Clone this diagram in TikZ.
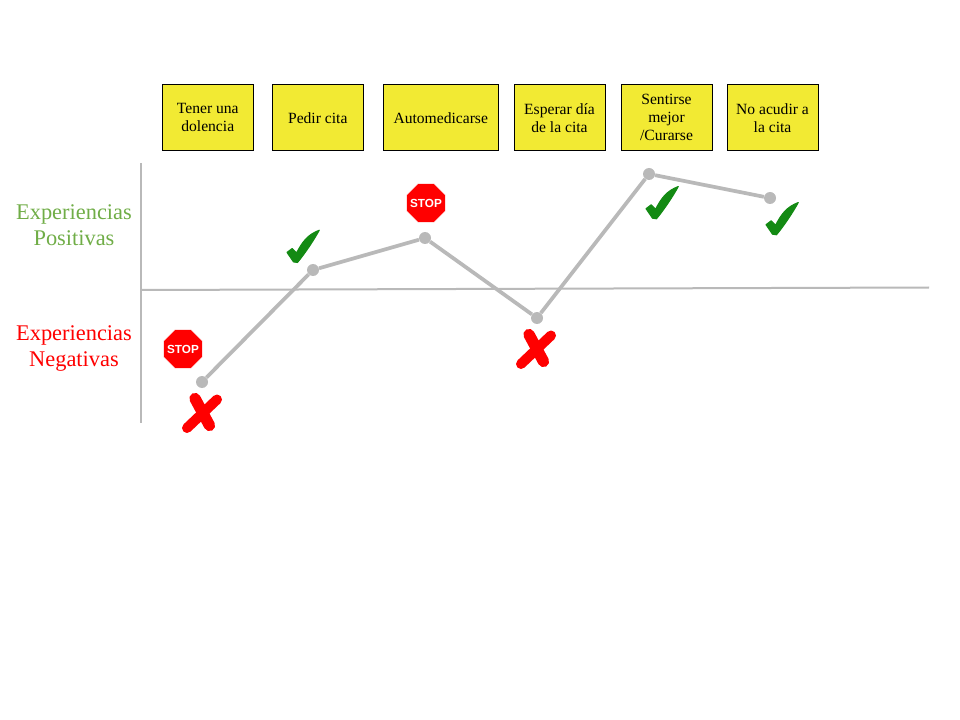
\documentclass[tikz,border=0pt]{standalone}
\usepackage{fontspec}
\setmainfont{Liberation Serif}
\newfontfamily\stopfont{Liberation Sans}
\usetikzlibrary{shapes.geometric}
\definecolor{boxyellow}{HTML}{F2EA33}
\definecolor{linegray}{HTML}{B9B9B9}
\definecolor{posgreen}{HTML}{70AD47}
\definecolor{checkgreen}{HTML}{138A13}
\tikzset{
	stage/.style={draw=black, line width=0.75pt, fill=boxyellow, minimum height=49.5pt, inner sep=0pt, align=center, font=\fontsize{11.7}{13.5}\selectfont},
	side/.style={align=center, font=\fontsize{16.8}{19.5}\selectfont},
	point/.style={circle, fill=linegray, inner sep=0pt, minimum size=9pt},
	axis/.style={draw=linegray, line width=1.5pt},
	journey/.style={draw=linegray, line width=2.8pt},
	stopsign/.style={regular polygon, regular polygon sides=8, fill=red, draw=white, line width=0.4pt, inner sep=-6pt, minimum size=31.5pt, text=white, font=\stopfont\bfseries\fontsize{8.8}{10}\selectfont},
	pics/check/.style={code={
		\filldraw[checkgreen, line width=0.8pt, line join=round] (-15.5,5.7) -- (-10.3,1.8) -- (-6,6.3) .. controls (0,-5) and (5,-12) .. (16.8,-16.5) .. controls (11,-6) and (3,6) .. (-5,15.8) -- (-9,15.2) -- cycle;
	}},
	pics/cross/.style={code={
		\draw[red, line width=8.5pt, line cap=round] (-7,-14.5) -- (7.5,12.5);
		\draw[red, line width=7.5pt, line cap=round] (15,-13.5) -- (-15,15);
	}},
}

\begin{document}
\begin{tikzpicture}[x=0.75pt, y=-0.75pt]
		\useasboundingbox (0,0) rectangle (960,720);
		\node[stage, minimum width=68.25pt] (S1) at (207.75,117.75) {Tener una\\dolencia};
		\node[stage, minimum width=68.25pt] (S2) at (317.75,117.75) {Pedir cita};
		\node[stage, minimum width=86.5pt] (S3) at (440.75,117.75) {Automedicarse};
		\node[stage, minimum width=68.25pt] (S4) at (559.5,117.75) {Esperar día\\de la cita};
		\node[stage, minimum width=68.25pt] (S5) at (666.5,117.75) {Sentirse\\mejor\\/Curarse};
		\node[stage, minimum width=68.25pt] (S6) at (772.5,117.75) {No acudir a\\la cita};
		\node[side, text=posgreen] (Pos) at (74,225.5) {Experiencias\\Positivas};
		\node[side, text=red] (Neg) at (74,348.5) {Experiencias\\Negativas};
		\coordinate (Vtop) at (141,163);
		\coordinate (Vbot) at (141,423);
		\coordinate (Hleft) at (141,290);
		\coordinate (Hright) at (929,287.5);
		\path [axis] (Vtop) edge (Vbot);
		\path [axis] (Hleft) edge (Hright);
		\node[point] (P1) at (202,382) {};
		\node[point] (P2) at (313,270) {};
		\node[point] (P3) at (425,238) {};
		\node[point] (P4) at (537,318) {};
		\node[point] (P5) at (649,174) {};
		\node[point] (P6) at (770,198) {};
		\path [journey] (P1) edge (P2);
		\path [journey] (P2) edge (P3);
		\path [journey] (P3) edge (P4);
		\path [journey] (P4) edge (P5);
		\path [journey] (P5) edge (P6);
		\node[stopsign] (Stop1) at (183,349) {STOP};
		\node[stopsign] (Stop2) at (426,203) {STOP};
		\pic at (202,413) {cross};
		\pic at (536,349) {cross};
		\pic at (302.5,246.7) {check};
		\pic at (661.5,203) {check};
		\pic at (781.5,219) {check};
	\end{tikzpicture}
\end{document}
